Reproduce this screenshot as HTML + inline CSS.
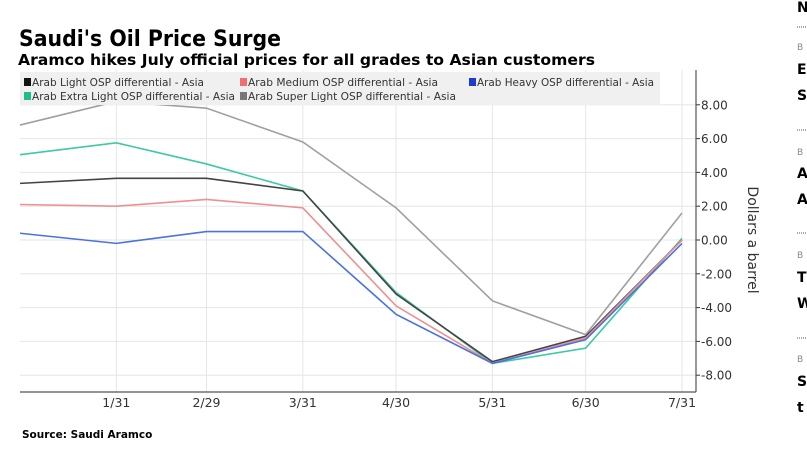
<!DOCTYPE html>
<html><head><meta charset="utf-8"><style>
body{margin:0;width:807px;height:448px;overflow:hidden;background:#fff;font-family:"DejaVu Sans","Liberation Sans",sans-serif;}
svg text{font-family:"DejaVu Sans","Liberation Sans",sans-serif;}
</style></head><body>
<svg id="c" width="807" height="448">
<text x="19" y="46" font-size="22" font-weight="bold" fill="#000" textLength="262" lengthAdjust="spacingAndGlyphs">Saudi's Oil Price Surge</text>
<text x="18" y="65" font-size="15" font-weight="bold" fill="#000" textLength="577" lengthAdjust="spacingAndGlyphs">Aramco hikes July official prices for all grades to Asian customers</text>
<text x="22" y="438" font-size="10.5" font-weight="bold" fill="#000">Source:  Saudi Aramco</text>
<g id="side">
<text x="797" y="12" font-size="14" font-weight="bold">N</text>
<line x1="797" y1="27" x2="807" y2="27" stroke="#555" stroke-dasharray="1,1"/>
<text x="797" y="50" font-size="9" fill="#888">B</text>
<text x="797" y="74" font-size="14" font-weight="bold">E</text>
<text x="797" y="100" font-size="14" font-weight="bold">S</text>
<line x1="797" y1="130" x2="807" y2="130" stroke="#555" stroke-dasharray="1,1"/>
<text x="797" y="155" font-size="9" fill="#888">B</text>
<text x="797" y="178" font-size="14" font-weight="bold">A</text>
<text x="797" y="204" font-size="14" font-weight="bold">A</text>
<line x1="797" y1="233" x2="807" y2="233" stroke="#555" stroke-dasharray="1,1"/>
<text x="797" y="258" font-size="9" fill="#888">B</text>
<text x="797" y="282" font-size="14" font-weight="bold">T</text>
<text x="797" y="308" font-size="14" font-weight="bold">W</text>
<line x1="797" y1="338" x2="807" y2="338" stroke="#555" stroke-dasharray="1,1"/>
<text x="797" y="362" font-size="9" fill="#888">B</text>
<text x="797" y="386" font-size="14" font-weight="bold">S</text>
<text x="797" y="412" font-size="14" font-weight="bold">t</text>
</g>
</svg>
<script>
const dates=["2015-12-31","2016-01-31","2016-02-29","2016-03-31","2016-04-30","2016-05-31","2016-06-30","2016-07-31"];
const tickLabels=["1/31","2/29","3/31","4/30","5/31","6/30","7/31"];
const tickDates=["2016-01-31","2016-02-29","2016-03-31","2016-04-30","2016-05-31","2016-06-30","2016-07-31"];
const yTicks=[8,6,4,2,0,-2,-4,-6,-8];
const superLight=[6.8,8.2,7.8,5.8,1.9,-3.6,-5.6,1.6];
const extraLight=[5.05,5.75,4.5,2.9,-3.1,-7.3,-6.4,0.1];
const light=[3.35,3.65,3.65,2.9,-3.2,-7.2,-5.7,0.0];
const medium=[2.1,2.0,2.4,1.9,-3.9,-7.3,-5.8,0.0];
const heavy=[0.4,-0.2,0.5,0.5,-4.4,-7.3,-5.9,-0.2];
const series=[
 {name:"super-light",vals:superLight,color:"#a0a0a0"},
 {name:"extra-light",vals:extraLight,color:"#3cc9a3"},
 {name:"light",vals:light,color:"#444"},
 {name:"medium",vals:medium,color:"#f08f8f"},
 {name:"heavy",vals:heavy,color:"#4a72e0"}];
const t0=Date.parse(dates[0]),t1=Date.parse(dates[dates.length-1]);
const X0=20,X1=682,Y0=240,PY=16.9;
const x=d=>X0+(Date.parse(d)-t0)/(t1-t0)*(X1-X0);
const y=v=>Y0-v*PY;
const svg=document.getElementById('c');
const NS="http://www.w3.org/2000/svg";
function mk(tag,at){const e=document.createElementNS(NS,tag);for(const k in at)e.setAttribute(k,at[k]);svg.appendChild(e);return e;}
yTicks.forEach(v=>{const l=mk('line',{x1:20,x2:696,y1:y(v),y2:y(v),stroke:"#e6e6e6"});


const tk=mk('line',{x1:696,x2:700,y1:y(v),y2:y(v),stroke:"#333"});


const t=mk('text',{x:701,y:y(v)+4.5,"font-size":12,fill:"#333"});t.textContent=v.toFixed(2);

});
tickDates.forEach((d,i)=>{const l=mk('line',{x1:x(d),x2:x(d),y1:70,y2:392,stroke:"#e6e6e6"});


const t=mk('text',{x:x(d),y:407,"font-size":12.5,fill:"#333","text-anchor":"middle"});t.textContent=tickLabels[i];

});
series.forEach(s=>{const p=mk('polyline',{points:s.vals.map((v,i)=>x(dates[i])+","+y(v)).join(" "),fill:"none",stroke:s.color,"stroke-width":1.6});

});
const lb=mk('rect',{x:20,y:72,width:640,height:33,fill:"#f0f0f0"});


const ax=mk('line',{x1:20,x2:696,y1:392,y2:392,stroke:"#555","stroke-width":1.2});


const ay=mk('line',{x1:696,x2:696,y1:70,y2:392,stroke:"#555","stroke-width":1.2});


const at=mk('text',{x:0,y:0,"font-size":14,fill:"#333","text-anchor":"middle",transform:"translate(748,240) rotate(90)"});at.textContent="Dollars a barrel";


const leg=[["Arab Light OSP differential - Asia","#111",24,86,172],["Arab Medium OSP differential - Asia","#f07070",240,86,190],["Arab Heavy OSP differential - Asia","#1a3ccf",469,86,177],["Arab Extra Light OSP differential - Asia","#1fbf8a",24,100,203],["Arab Super Light OSP differential - Asia","#777",240,100,208]];
leg.forEach(e=>{const r=mk('rect',{x:e[2],y:e[3]-8,width:7,height:8,fill:e[1]});


const t=mk('text',{x:e[2]+8,y:e[3],"font-size":10.5,fill:"#333",textLength:e[4],lengthAdjust:"spacingAndGlyphs"});t.textContent=e[0];

});
</script>
</body></html>
